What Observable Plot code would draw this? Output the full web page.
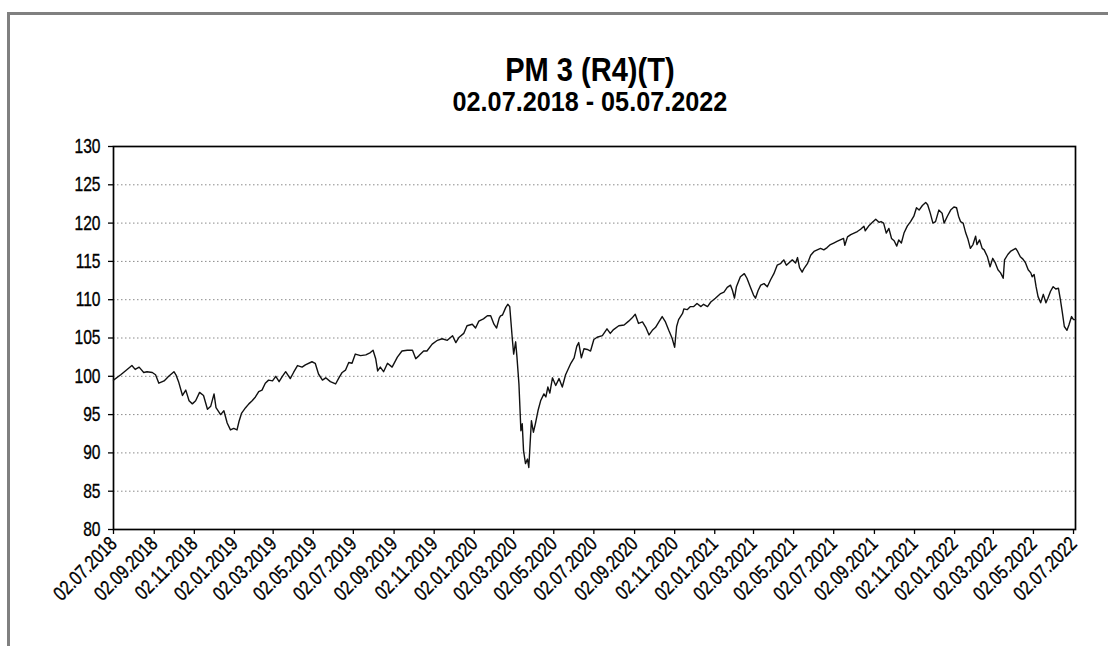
<!DOCTYPE html>
<html><head><meta charset="utf-8">
<script src="https://cdn.jsdelivr.net/npm/d3@7"></script>
<script src="https://cdn.jsdelivr.net/npm/@observablehq/plot@0.6"></script>
<style>
html,body{margin:0;padding:0;background:#fff;}
body{width:1108px;height:646px;overflow:hidden;position:relative;font-family:"Liberation Sans",Arial,sans-serif;color:#000;}
#frame{position:absolute;left:7px;top:12px;width:1110px;height:650px;border-top:3px solid #808080;border-left:3px solid #808080;}
#title{position:absolute;left:0;width:1180px;top:55px;text-align:center;font-weight:bold;font-size:33px;line-height:30px;transform:scaleX(0.88);transform-origin:589px 0;}
#subtitle{position:absolute;left:0;width:1180px;top:89px;text-align:center;font-weight:bold;font-size:28px;line-height:26px;transform:scaleX(0.9);transform-origin:589px 0;}
#chart{position:absolute;left:0;top:130px;}
</style></head>
<body>
<div id="frame"></div>
<div id="title">PM 3 (R4)(T)</div>
<div id="subtitle">02.07.2018 - 05.07.2022</div>
<div id="chart"></div>
<script>
const startDate = "2018-07-02";
const endDate = "2022-07-05";
// trading-day offsets (days after start date)
const dayOffsets = [
0,11,18,28,33,39,46,51,59,64,69,77,84,92,95,99,105,110,115,120,125,131,137,143,148,153,156,163,168,173,178,183,188,191,195,201,206,211,216,221,226,231,236,242,247,252,257,262,269,274,280,287,292,
302,307,312,318,323,330,338,343,348,353,358,363,368,376,384,391,395,399,402,406,411,417,424,432,439,447,455,460,465,472,477,485,493,500,508,516,521,526,533,538,546,551,556,563,569,574,579,583,587,589,
592,597,600,603,607,609,612,614,617,620,622,624,627,630,632,634,636,639,642,646,650,655,658,661,664,668,673,678,683,688,696,701,705,708,712,716,721,726,731,736,744,751,756,761,769,777,784,789,794,799,805,810,815,820,825,830,835,840,845,850,854,857,860,866,868,873,878,
883,888,894,898,904,909,916,924,929,934,939,942,945,948,954,960,964,969,974,977,981,985,990,995,1000,1005,1010,1015,1020,1024,1029,1033,1038,1041,1044,1048,1051,1056,1061,1066,1071,1076,1081,1086,1091,1096,1101,1106,1111,1113,1117,1122,1127,1132,1137,1142,1144,1150,1155,1160,1165,1168,
1172,1176,1180,1184,1188,1192,1195,1199,1203,1208,1213,1218,1222,1226,1231,1236,1239,1243,1247,1251,1256,1261,1264,1269,1274,1279,1283,1286,1289,1293,1297,1300,1304,1308,1312,1314,1318,1322,1325,1330,1334,1338,1342,1346,1350,1354,1356,1361,1365,1369,1373,1376,1380,1384,1388,1392,1396,1398,1401,1404,1407,1411,1415,1419,1422,1426,1430,1434,1438,1441,1444,1447,1451,1454,1458,1461,1464
];
const values = [
99.5,100.2,100.7,101.4,100.9,101.2,100.5,100.6,100.5,100.2,99.1,99.4,100.0,100.6,100.2,99.3,97.5,98.2,96.8,96.4,96.8,97.9,97.5,95.7,96.1,97.7,95.9,95.0,95.5,93.9,93.0,93.2,93.0,94.1,95.2,95.9,96.4,96.8,97.3,98.0,98.2,99.1,99.5,99.4,100.0,99.3,100.0,100.6,99.7,100.5,101.4,101.2,101.5,
101.9,101.7,100.3,99.5,99.8,99.3,99.0,99.8,100.5,100.8,101.8,101.7,102.9,102.7,102.8,103.1,103.4,102.3,100.7,101.2,100.6,101.7,101.2,102.5,103.3,103.4,103.4,102.3,102.7,103.3,103.3,104.2,104.7,104.9,104.7,105.3,104.4,105.1,105.6,106.6,106.8,106.3,107.2,107.5,107.9,107.9,106.8,106.3,107.6,107.9,
108.0,109.0,109.4,109.1,104.8,102.9,104.5,102.5,99.0,92.9,93.8,90.3,88.6,89.2,88.1,91.2,94.2,92.7,93.8,95.5,96.8,97.7,97.3,98.6,97.8,99.8,98.8,99.7,98.6,100.2,101.7,102.4,103.9,104.4,102.4,103.6,103.5,103.3,104.8,105.1,105.3,106.2,105.6,106.1,106.6,106.7,107.2,107.6,108.1,106.9,107.1,106.4,105.4,106.0,106.4,107.1,107.8,107.1,106.0,105.0,103.8,106.5,107.4,108.2,108.8,108.7,109.1,
109.1,109.5,109.1,109.4,109.1,109.7,110.2,110.8,111.0,111.6,111.9,111.2,110.2,111.7,113.0,113.4,112.8,111.7,110.6,110.2,111.2,111.9,112.1,111.7,112.6,113.4,114.5,114.7,115.2,114.5,114.9,115.2,114.8,115.5,114.2,113.6,114.1,114.7,115.8,116.3,116.5,116.7,116.5,116.8,117.2,117.4,117.6,117.8,118.0,117.1,118.2,118.5,118.7,118.9,119.2,119.6,119.0,119.7,120.1,120.5,120.1,120.2,
120.0,118.7,119.3,118.0,117.7,117.0,117.8,117.4,118.7,119.6,120.2,120.9,122.0,121.7,122.3,122.7,122.4,121.3,120.0,120.2,121.7,121.3,120.0,120.9,121.7,122.1,122.0,120.9,120.2,120.0,118.7,118.0,116.7,117.2,118.3,117.2,117.8,116.7,116.5,115.6,114.3,115.4,114.8,113.9,113.5,112.8,115.2,115.9,116.3,116.5,116.7,116.3,115.6,115.3,114.8,113.9,113.5,113.0,113.3,111.7,110.4,109.6,110.7,109.6,110.2,111.1,111.7,111.4,111.5,110.0,108.3,106.5,106.0,106.7,107.8,107.4,107.4
];
const tickDates = ["2018-07-02","2018-09-02","2018-11-02","2019-01-02","2019-03-02","2019-05-02","2019-07-02","2019-09-02","2019-11-02","2020-01-02","2020-03-02","2020-05-02","2020-07-02","2020-09-02","2020-11-02","2021-01-02","2021-03-02","2021-05-02","2021-07-02","2021-09-02","2021-11-02","2022-01-02","2022-03-02","2022-05-02","2022-07-02"];
const yTicks = [80,85,90,95,100,105,110,115,120,125,130];

const parse = d3.utcParse("%Y-%m-%d");
const t0 = parse(startDate);
const data = dayOffsets.map((d, i) => ({date: d3.utcDay.offset(t0, d), value: values[i]}));
const fontFam = '"Liberation Sans",Arial,sans-serif';

const chart = Plot.plot({
  width: 1108, height: 516,
  marginTop: 16, marginBottom: 117, marginLeft: 113, marginRight: 33,
  style: {fontFamily: fontFam, fontSize: "17px", color: "#000", background: "transparent", overflow: "visible"},
  x: {type: "utc", domain: [t0, parse(endDate)]},
  y: {domain: [80, 130]},
  marks: [
    Plot.gridY(yTicks.slice(1, -1), {stroke: "#8a8a8a", strokeOpacity: 1, strokeDasharray: "1.5,2.5", strokeWidth: 1}),
    Plot.axisY({ticks: yTicks, tickSize: 5, tickPadding: 8, fontSize: 20, label: null, tickFormat: d => String(d), strokeWidth: 1.3}),
    Plot.axisX({ticks: tickDates.map(parse), tickFormat: d3.utcFormat("%d.%m.%Y"), tickRotate: -45, tickSize: 5, tickPadding: 6, fontSize: 20, label: null, strokeWidth: 1.3}),
    Plot.frame({stroke: "#000", strokeWidth: 1.7}),
    Plot.lineY(data, {x: "date", y: "value", stroke: "#111", strokeWidth: 1.4})
  ]
});

// condense tick label glyphs horizontally (narrow typeface look) and thicken slightly
function condense(sel, s) {
  chart.querySelectorAll(sel).forEach(t => {
    const tr = t.getAttribute("transform");
    if (tr) {
      t.setAttribute("transform", tr + ` scale(${s},1)`);
    } else {
      const x = t.getAttribute("x") || 0, y = t.getAttribute("y") || 0;
      t.removeAttribute("x"); t.removeAttribute("y");
      t.setAttribute("transform", `translate(${x},${y}) scale(${s},1)`);
    }
    t.setAttribute("stroke", "#000");
    t.setAttribute("stroke-width", "0.35");
  });
}
condense('g[aria-label="y-axis tick label"] text', 0.78);
condense('g[aria-label="x-axis tick label"] text', 0.8);
document.getElementById("chart").appendChild(chart);
</script>
</body></html>
